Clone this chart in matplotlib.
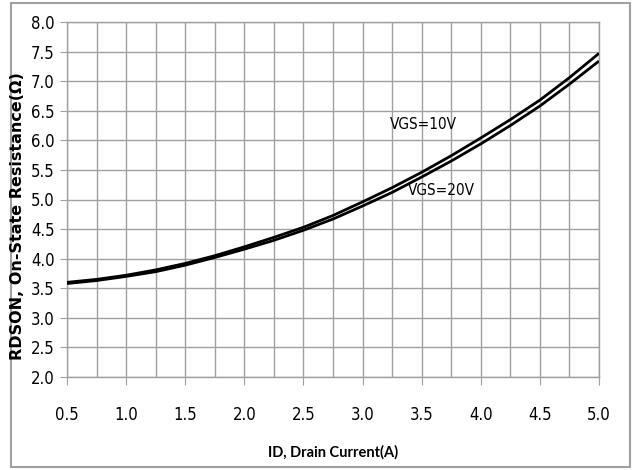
import matplotlib
matplotlib.use('Agg')
import matplotlib.pyplot as plt
import matplotlib.patches as patches
import numpy as np

# drain current (A)
id_a = [0.5, 0.75, 1.0, 1.25, 1.5, 1.75, 2.0, 2.25, 2.5, 2.75,
        3.0, 3.25, 3.5, 3.75, 4.0, 4.25, 4.5, 4.75, 5.0]
# RDSON (ohm)
vgs10 = [3.60, 3.65, 3.72, 3.81, 3.92, 4.05, 4.20, 4.36, 4.53, 4.73,
         4.96, 5.20, 5.46, 5.74, 6.04, 6.35, 6.68, 7.06, 7.47]
vgs20 = [3.58, 3.63, 3.70, 3.78, 3.89, 4.02, 4.16, 4.31, 4.48, 4.67,
         4.89, 5.12, 5.38, 5.65, 5.94, 6.25, 6.58, 6.95, 7.34]

xticks = np.arange(0.5, 5.01, 0.5)
yticks = np.arange(2.0, 8.01, 0.5)

tick_font = ['DejaVu Sans']
grid_c = '#a0a0a0'

fig = plt.figure(figsize=(6.36, 4.70), dpi=100)
ax = fig.add_axes([67 / 636, 93 / 470, 532 / 636, 355 / 470])

ax.plot(id_a, vgs10, color='black', lw=2.0, solid_capstyle='butt', zorder=3)
ax.plot(id_a, vgs20, color='black', lw=2.0, solid_capstyle='butt', zorder=3)

ax.set_xlim(0.5, 5.0)
ax.set_ylim(2.0, 8.0)
ax.set_xticks(xticks)
ax.set_yticks(yticks)
ax.set_xticks(np.arange(0.75, 5.0, 0.5), minor=True)
ax.set_xticklabels(['%.1f' % v for v in xticks], family=tick_font,
                   fontstretch='condensed', fontsize=12)
ax.set_yticklabels(['%.1f' % v for v in yticks], family=tick_font,
                   fontstretch='condensed', fontsize=12)
ax.tick_params(axis='x', which='major', length=6, color=grid_c, pad=15)
ax.tick_params(axis='x', which='minor', length=0)
ax.tick_params(axis='y', length=5, color=grid_c, pad=4)
ax.grid(True, which='both', color=grid_c, lw=1.0)
ax.set_axisbelow(True)
for s in ax.spines.values():
    s.set_color(grid_c)
    s.set_linewidth(1.0)

ax.text(3.23, 6.26, 'VGS=10V', family=tick_font, fontstretch='condensed',
        fontsize=11, va='center')
ax.text(3.38, 5.16, 'VGS=20V', family=tick_font, fontstretch='condensed',
        fontsize=11, va='center')

fig.text(18 / 636, 1 - 216 / 470, 'RDSON, On-State Resistance(\u03a9)',
         rotation=90, ha='center', va='center', fontsize=11.5,
         fontweight='bold', family='DejaVu Sans')
fig.text(333 / 636, 1 - 452 / 470, 'ID, Drain Current(A)', ha='center',
         va='center', fontsize=10.5, fontweight='bold', family='Lato')

border = patches.Rectangle((11 / 636, 3 / 470), 619 / 636, 464 / 470,
                           transform=fig.transFigure, fill=False,
                           edgecolor='#a0a0a0', lw=1.5)
fig.patches.append(border)

fig.savefig('out.png', dpi=100)
